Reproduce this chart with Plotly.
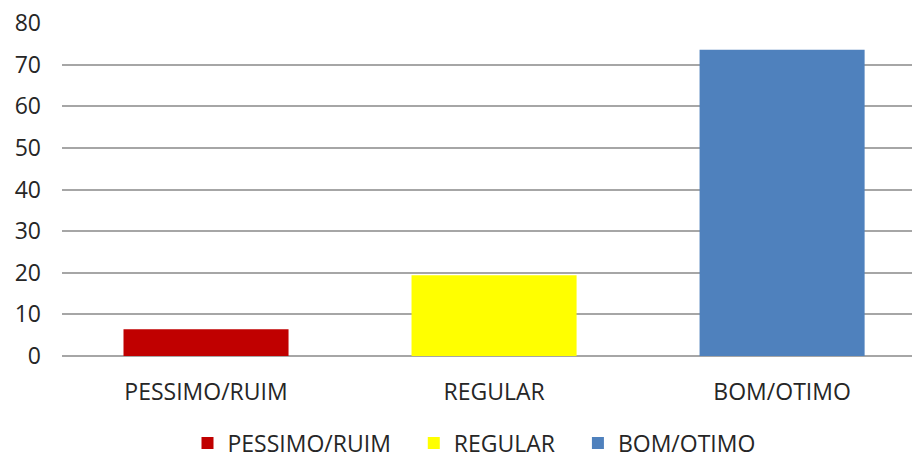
import plotly.graph_objects as go

# Satisfaction ratings, in percent
categories = ["PESSIMO/RUIM", "REGULAR", "BOM/OTIMO"]
values = [6.4, 19.4, 73.6]
colors = ["#C00000", "#FFFF00", "#4F81BD"]

y_ticks = [0, 10, 20, 30, 40, 50, 60, 70, 80]

FONT = "Open Sans"
TEXT_COLOR = "#262626"
GRID_COLOR = "#A6A6A6"
PAD = "\u00a0\u00a0\u00a0"

fig = go.Figure()
for cat, val, col in zip(categories, values, colors):
    fig.add_trace(go.Bar(
        x=[cat], y=[val], name=cat + PAD,
        marker=dict(color=col, line=dict(width=0)),
        width=0.573,
    ))

L, R, T, B = 62, 0, 23, 103

fig.update_layout(
    width=912, height=459,
    margin=dict(l=L, r=R, t=T, b=B),
    paper_bgcolor="white", plot_bgcolor="white",
    barmode="overlay",
    font=dict(family=FONT, size=23, color=TEXT_COLOR),
    legend=dict(
        orientation="h",
        xref="container", x=483 / 912, xanchor="center",
        yref="container", y=1 - 443 / 459, yanchor="middle",
        font=dict(family=FONT, size=23, color=TEXT_COLOR),
        itemwidth=30,
    ),
    xaxis=dict(
        type="category", categoryorder="array", categoryarray=categories,
        range=[-0.5, 2.451], showgrid=False, showline=False,
        ticks="", ticklabelstandoff=20, automargin=False,
        tickfont=dict(family=FONT, size=23, color=TEXT_COLOR),
    ),
    yaxis=dict(
        range=[0, 80], tickvals=y_ticks, showgrid=True,
        gridcolor=GRID_COLOR, gridwidth=2,
        zeroline=True, zerolinecolor=GRID_COLOR, zerolinewidth=2,
        showline=False, ticks="", ticklabelstandoff=20, automargin=False,
        tickfont=dict(family=FONT, size=23, color=TEXT_COLOR),
    ),
)

fig.write_html("out.html")
